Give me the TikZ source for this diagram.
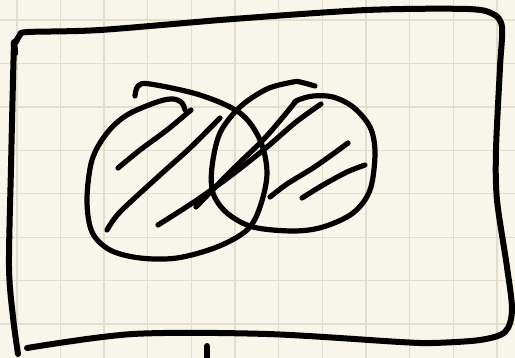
\documentclass[tikz,border=0pt]{standalone}
\definecolor{paper}{HTML}{F8F6EA}
\definecolor{gridc}{HTML}{E0DECD}
\begin{document}
\begin{tikzpicture}[x=1pt,y=-1pt,
  ink/.style={line width=5.2pt,line cap=round,line join=round,black},
  frame/.style={line width=6pt,line cap=round,line join=round,black}]
\useasboundingbox (0,0) rectangle (515,358);
\fill[paper] (0,0) rectangle (515,358);
% grid
\foreach \i in {0,...,11} {
  \draw[gridc,line width=1.4pt] ({16.8+43.65*\i},0) -- ({16.8+43.65*\i},358);
}
\foreach \j in {0,...,7} {
  \draw[gridc,line width=1.4pt] (0,{20+43.45*\j}) -- (515,{20+43.45*\j});
}
% frame: top, right, bottom
\draw[frame] plot[smooth,tension=0.5] coordinates {(16,42) (20,35) (28,32) (100,30) (233,19) (367,10) (467,9) (493,14) (502,27) (500,67) (496,150) (497,200) (507,267) (512,310) (505,332) (480,340) (433,343) (400,342) (267,334) (133,334) (27,348)};
% frame: left
\draw[frame] plot[smooth,tension=0.5] coordinates {(14,42) (13,80) (11,167) (9,267) (13,317) (18,354)};
\draw[line width=6.5pt,line cap=round] (14,44) -- (15,53);
% small mark at bottom
\draw[frame] (207,346) -- (207,362);
% left circle
\draw[ink] plot[smooth,tension=0.55] coordinates {(135,96) (138,86) (150,84) (200,95) (240,113) (260,140) (267,173) (260,207) (247,230) (217,247) (177,258) (140,258) (110,250) (92,232) (87,200) (92,160) (107,133) (127,115) (157,102) (173,99) (182,103) (185,110)};
% right circle
\draw[ink] plot[smooth,tension=0.55] coordinates {(315,86) (300,82) (293,82) (267,89) (240,107) (220,133) (212,167) (213,193) (227,213) (253,227) (293,231) (323,227) (353,213) (370,190) (375,153) (370,127) (353,107) (333,97) (313,96) (298,100) (294,103)};
% hatches
\draw[ink] plot[smooth] coordinates {(118,168) (140,150) (167,130) (191,110)};
\draw[ink] plot[smooth] coordinates {(107,230) (120,212) (160,175) (190,148) (220,118)};
\draw[ink] plot[smooth] coordinates {(158,225) (197,200) (233,174) (267,147) (296,122) (321,104)};
\draw[ink] plot[smooth] coordinates {(196,207) (230,172) (263,140) (283,117) (296,101)};
\draw[ink] plot[smooth] coordinates {(270,197) (287,184) (313,168) (333,154) (348,143)};
\draw[ink] plot[smooth] coordinates {(302,198) (323,185) (347,172) (365,165)};
\end{tikzpicture}
\end{document}
